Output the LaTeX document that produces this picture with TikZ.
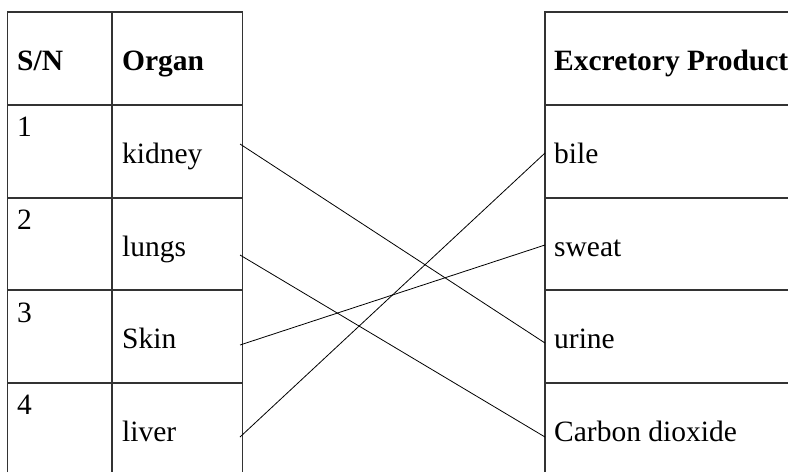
\documentclass[tikz,border=0pt]{standalone}
\usepackage{fontspec}
\setmainfont{Liberation Serif}
\begin{document}
\begin{tikzpicture}[x=1pt,y=-1pt,
  border/.style={draw=black!80,line width=1.1pt},
  link/.style={draw=black,line width=0.8pt},
  txt/.style={anchor=base west,inner sep=0pt,font=\fontsize{29.5}{32}\selectfont},
  head/.style={txt,font=\fontsize{29.5}{32}\selectfont\bfseries}]
\useasboundingbox (0,0) rectangle (788,472);
% left table
\draw[border] (7.5,472) -- (7.5,12) -- (242.5,12) -- (242.5,472);
\draw[border] (112,12) -- (112,472);
\foreach \yy in {105,198,290,383} \draw[border] (7.5,\yy) -- (242.5,\yy);
% right table
\draw[border] (545,472) -- (545,12) -- (790,12);
\foreach \yy in {105,198,290,383} \draw[border] (545,\yy) -- (790,\yy);
% headers
\node[head] (hsn) at (17,70) {S/N};
\node[head] (horg) at (122,70) {Organ};
\node[head] (hexc) at (554,70) {Excretory Product};
% numbers
\node[txt] (n1) at (17,136) {1};
\node[txt] (n2) at (17,229) {2};
\node[txt] (n3) at (17,322) {3};
\node[txt] (n4) at (17,414) {4};
% organs
\node[txt] (kid) at (122,163) {kidney};
\node[txt] (lun) at (122,256) {lungs};
\node[txt] (ski) at (122,348) {Skin};
\node[txt] (liv) at (122,441) {liver};
% products
\node[txt] (bil) at (554,163) {bile};
\node[txt] (swe) at (554,256) {sweat};
\node[txt] (uri) at (554,348) {urine};
\node[txt] (co2) at (554,441) {Carbon dioxide};
% connector end points
\coordinate (kidE) at (240,144);
\coordinate (lunE) at (240,255);
\coordinate (skiE) at (240,345);
\coordinate (livE) at (240,437);
\coordinate (bilW) at (545,153);
\coordinate (sweW) at (545,245);
\coordinate (uriW) at (545,343);
\coordinate (co2W) at (545,437);
\draw[link] (kidE) -- (uriW);
\draw[link] (lunE) -- (co2W);
\draw[link] (skiE) -- (sweW);
\draw[link] (livE) -- (bilW);
\end{tikzpicture}
\end{document}
